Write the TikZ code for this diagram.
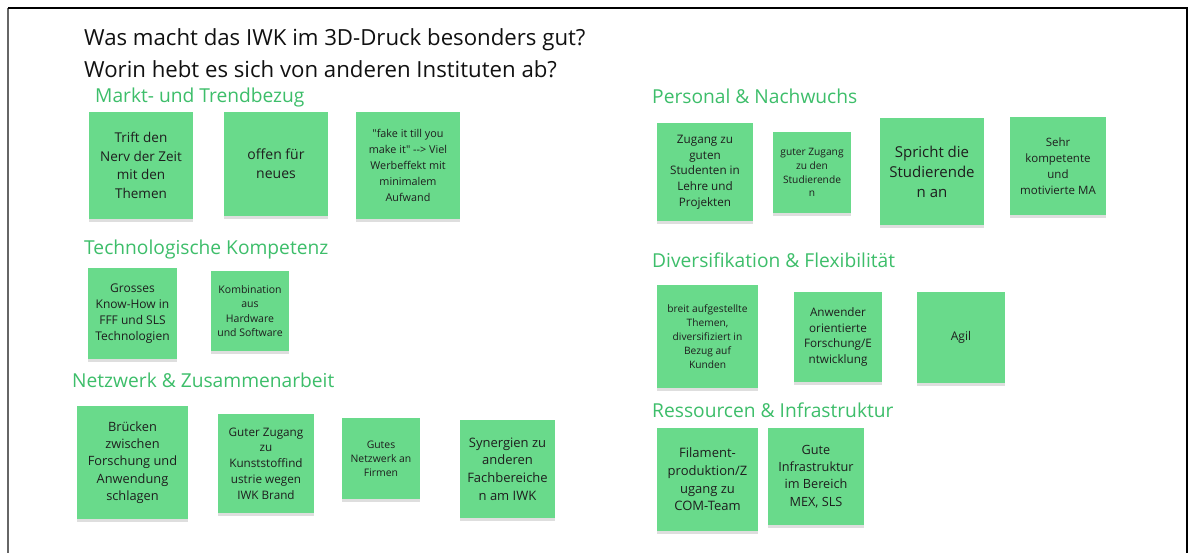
\documentclass[tikz,border=0pt]{standalone}
\usepackage{fontspec}
\setmainfont{Open Sans}[Ligatures=TeXOff]
\usetikzlibrary{shadows}
\definecolor{notefill}{HTML}{69DA8B}
\definecolor{headgreen}{HTML}{3DBE6A}
\definecolor{notetext}{HTML}{1E1E1E}
\definecolor{titletext}{HTML}{111111}
\tikzset{
  note/.style={fill=notefill, draw=none, inner sep=0pt, align=center, text=notetext,
    drop shadow={shadow xshift=0pt, shadow yshift=-3pt, opacity=0.13, fill=black}},
  heading/.style={anchor=base west, text=headgreen, inner sep=0pt, font=\fontsize{19.2}{23}\selectfont},
  titleline/.style={anchor=base west, text=titletext, inner sep=0pt, font=\fontsize{22.2}{26}\selectfont},
  frameleft/.style={draw=black!60, line width=1.6pt},
  frameline/.style={draw=black, line width=1.6pt}
}
\newcommand\snote[8]{%
  \pgfmathsetmacro\snX{(#2+#4)/2}\pgfmathsetmacro\snY{(#3+#5)/2}%
  \pgfmathsetmacro\snW{#4-#2}\pgfmathsetmacro\snH{#5-#3}%
  \node[note, minimum width=\snW pt, minimum height=\snH pt,
        font=\fontsize{#6}{#7}\selectfont] (#1) at (\snX,\snY) {#8};}
\newcommand\dq{\char34\relax}
\begin{document}
\begin{tikzpicture}[x=1pt, y=-1pt]
\useasboundingbox (0,0) rectangle (1194,553);
\fill[white] (0,0) rectangle (1194,553);
% frame
\coordinate (fl) at (8,553);
\coordinate (ftl) at (8,8);
\coordinate (ftr) at (1187,8);
\coordinate (fr) at (1187,553);
\draw[frameleft] (fl) -- (ftl);
\draw[frameline] (ftl) -- (ftr) -- (fr);
% titles
\node[titleline] (t1) at (84,46) {Was macht das IWK im 3D-Druck besonders gut?};
\node[titleline] (t2) at (84,78) {Worin hebt es sich von anderen Instituten ab?};
% headings
\node[heading] (h1) at (95,103) {Markt- und Trendbezug};
\node[heading] (h2) at (84,255) {Technologische Kompetenz};
\node[heading] (h3) at (72,387) {Netzwerk \& Zusammenarbeit};
\node[heading] (h4) at (652,104) {Personal \& Nachwuchs};
\node[heading] (h5) at (652,268) {Diversifikation \& Flexibilität};
\node[heading] (h6) at (652,417) {Ressourcen \& Infrastruktur};
% Markt
\snote{trift}{89}{112}{193}{219}{13.5}{18.7}{Trift den\\Nerv der Zeit\\mit den\\Themen}
\snote{offen}{224}{112}{328}{216}{14}{19.3}{offen für\\neues}
\snote{fake}{356}{112}{460}{219}{10.8}{16}{\dq fake it till you\\make it\dq\ -\kern0pt-\kern0pt> Viel\\Werbeffekt mit\\minimalem\\Aufwand}
% Technologie
\snote{grosses}{88}{268}{177}{359}{12}{16.1}{Grosses\\Know-How in\\FFF und SLS\\Technologien}
\snote{kombi}{211}{271}{289}{351}{10.5}{14.2}{Kombination\\aus\\Hardware\\und Software}
% Netzwerk
\snote{bruecken}{77}{406}{188}{519}{12.8}{17.25}{Brücken\\zwischen\\Forschung und\\Anwendung\\schlagen}
\snote{guter}{218}{414}{314}{513}{11.7}{15.75}{Guter Zugang\\zu\\Kunststoffind\\ustrie wegen\\IWK Brand}
\snote{gutes}{342}{418}{420}{499}{10.4}{14.2}{Gutes\\Netzwerk an\\Firmen}
\snote{synergien}{460}{420}{555}{518}{13}{17.6}{Synergien zu\\anderen\\Fachbereiche\\n am IWK}
% Personal
\snote{zugang}{657}{123}{753}{221}{11.7}{15.75}{Zugang zu\\guten\\Studenten in\\Lehre und\\Projekten}
\snote{guterz}{773}{132}{851}{213}{10.2}{13.9}{guter Zugang\\zu den\\Studierende\\n}
\snote{spricht}{880}{118}{984}{225}{15}{20}{Spricht die\\Studierende\\n an}
\snote{sehr}{1010}{117}{1106}{215}{11.5}{16}{Sehr\\kompetente\\und\\motivierte MA}
% Diversifikation
\snote{breit}{657}{285}{758}{388}{10.2}{13.9}{breit aufgestellte\\Themen,\\diversifiziert in\\Bezug auf\\Kunden}
\snote{anwender}{794}{292}{882}{382}{11.7}{15.8}{Anwender\\orientierte\\Forschung/E\\ntwicklung}
\snote{agil}{917}{292}{1005}{383}{12}{16}{Agil}
% Ressourcen
\snote{filament}{657}{428}{758}{531}{13}{17.6}{Filament-\\produktion/Z\\ugang zu\\COM-Team}
\snote{infra}{768}{428}{864}{525}{12.7}{17.3}{Gute\\Infrastruktur\\im Bereich\\MEX, SLS}
\end{tikzpicture}
\end{document}
